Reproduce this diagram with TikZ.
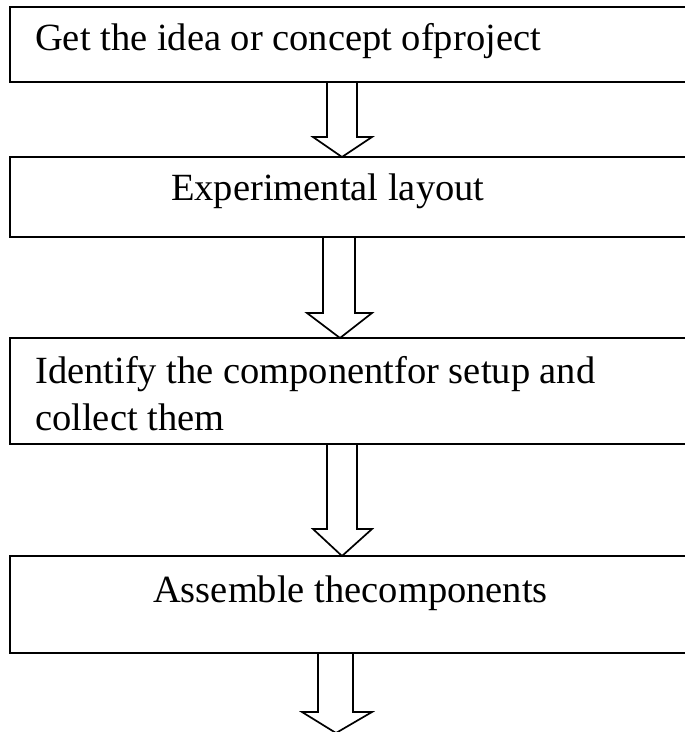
\documentclass[tikz,border=0pt]{standalone}
\usepackage{fontspec}
\setmainfont{Liberation Serif}
\usetikzlibrary{calc}
\tikzset{
  flowbox/.style={draw=black, line width=2.3pt, rectangle, minimum width=690pt, inner sep=0pt, outer sep=0pt},
  flowtext/.style={anchor=base west, inner sep=0pt, font=\fontsize{38.5}{47}\selectfont},
  blockarrow/.style={draw=black, line width=1.7pt, fill=white, line join=miter}
}
\begin{document}
\begin{tikzpicture}[x=1pt, y=-1pt]
\useasboundingbox (0,0) rectangle (685,732);
\clip (0,0) rectangle (685,732);
\fill[white] (0,0) rectangle (685,732);
% boxes
\node[flowbox, minimum height=75pt]  (b1) at (355,44.5) {};
\node[flowbox, minimum height=80pt]  (b2) at (355,197) {};
\node[flowbox, minimum height=106pt] (b3) at (355,391) {};
\node[flowbox, minimum height=97pt]  (b4) at (355,604.5) {};
\coordinate (bottom) at (336,733);
% texts
\node[flowtext] (t1) at (35,50) {Get the idea or concept ofproject};
\node[flowtext] (t2) at (171,200) {Experimental layout};
\node[flowtext] (t3a) at (35,383) {Identify the componentfor setup and};
\node[flowtext] (t3b) at (35,430) {collect them};
\node[flowtext] (t4) at (153,602) {Assemble thecomponents};
% x positions of arrows
\coordinate (a1l) at (327,0); \coordinate (a1r) at (357,0);
\coordinate (a1hl) at (313,0); \coordinate (a1hr) at (372,0); \coordinate (a1t) at (342,0);
\coordinate (a2l) at (323,0); \coordinate (a2r) at (355,0);
\coordinate (a2hl) at (307,0); \coordinate (a2hr) at (372,0); \coordinate (a2t) at (340,0);
\coordinate (a3l) at (327,0); \coordinate (a3r) at (357,0);
\coordinate (a3hl) at (313,0); \coordinate (a3hr) at (372,0); \coordinate (a3t) at (342,0);
\coordinate (a4l) at (318,0); \coordinate (a4r) at (353,0);
\coordinate (a4hl) at (302,0); \coordinate (a4hr) at (372,0); \coordinate (a4t) at (336,0);
% arrows
\draw[blockarrow] (a1l |- b1.south) -- ($(a1l |- b2.north)+(0,-20)$) -- ($(a1hl |- b2.north)+(0,-20)$)
  -- (a1t |- b2.north) -- ($(a1hr |- b2.north)+(0,-20)$) -- ($(a1r |- b2.north)+(0,-20)$) -- (a1r |- b1.south);
\draw[blockarrow] (a2l |- b2.south) -- ($(a2l |- b3.north)+(0,-25)$) -- ($(a2hl |- b3.north)+(0,-25)$)
  -- (a2t |- b3.north) -- ($(a2hr |- b3.north)+(0,-25)$) -- ($(a2r |- b3.north)+(0,-25)$) -- (a2r |- b2.south);
\draw[blockarrow] (a3l |- b3.south) -- ($(a3l |- b4.north)+(0,-27)$) -- ($(a3hl |- b4.north)+(0,-27)$)
  -- (a3t |- b4.north) -- ($(a3hr |- b4.north)+(0,-27)$) -- ($(a3r |- b4.north)+(0,-27)$) -- (a3r |- b3.south);
\draw[blockarrow] (a4l |- b4.south) -- ($(a4l |- bottom)+(0,-21)$) -- ($(a4hl |- bottom)+(0,-21)$)
  -- (a4t |- bottom) -- ($(a4hr |- bottom)+(0,-21)$) -- ($(a4r |- bottom)+(0,-21)$) -- (a4r |- b4.south);
% redraw box borders over arrow ends
\draw[line width=2.3pt] (b1.south west) -- (b1.south east);
\draw[line width=2.3pt] (b2.north west) -- (b2.north east) (b2.south west) -- (b2.south east);
\draw[line width=2.3pt] (b3.north west) -- (b3.north east) (b3.south west) -- (b3.south east);
\draw[line width=2.3pt] (b4.north west) -- (b4.north east) (b4.south west) -- (b4.south east);
\end{tikzpicture}
\end{document}
